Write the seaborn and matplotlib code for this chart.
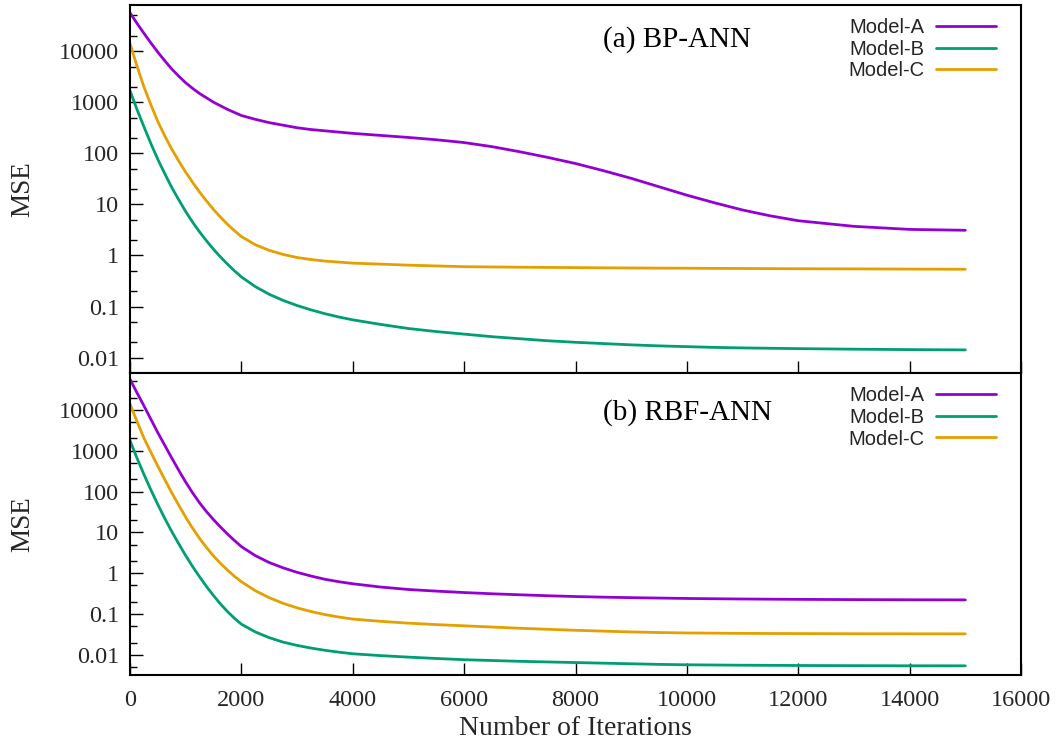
import numpy as np
import pandas as pd
import matplotlib
matplotlib.use("Agg")
import matplotlib.pyplot as plt
import matplotlib.ticker as mticker
import seaborn as sns

# ---------------- data ----------------
# MSE values are read off the log axis, so they are stored as log10(MSE)
iterations = [0, 125, 250, 375, 500, 625, 750, 875, 1000, 1125, 1250, 1375, 1500, 1625,
              1750, 1875, 2000, 2250, 2500, 2750, 3000, 3250, 3500, 3750, 4000, 4500,
              5000, 5500, 6000, 6500, 7000, 7500, 8000, 8500, 9000, 9500, 10000, 10500,
              11000, 11500, 12000, 13000, 14000, 15000]

models = ["Model-A", "Model-B", "Model-C"]

bp_model_a_log10 = [4.75, 4.545, 4.35, 4.16, 3.98, 3.81, 3.65, 3.51, 3.38, 3.27, 3.17, 3.085,
                    3.00, 2.93, 2.86, 2.80, 2.74, 2.665, 2.60, 2.55, 2.50, 2.465, 2.44, 2.415,
                    2.39, 2.35, 2.31, 2.265, 2.21, 2.13, 2.03, 1.92, 1.80, 1.66, 1.51, 1.345,
                    1.18, 1.03, 0.89, 0.775, 0.68, 0.57, 0.51, 0.493]
bp_model_b_log10 = [3.225, 2.86, 2.52, 2.19, 1.88, 1.60, 1.33, 1.09, 0.86, 0.65, 0.46, 0.285,
                    0.12, -0.03, -0.17, -0.30, -0.42, -0.61, -0.76, -0.88, -0.98, -1.065,
                    -1.14, -1.205, -1.26, -1.35, -1.43, -1.49, -1.54, -1.59, -1.63, -1.67,
                    -1.70, -1.725, -1.75, -1.77, -1.785, -1.80, -1.81, -1.817, -1.824,
                    -1.835, -1.843, -1.849]
bp_model_c_log10 = [4.15, 3.71, 3.30, 2.95, 2.62, 2.34, 2.08, 1.85, 1.63, 1.43, 1.24, 1.065,
                    0.90, 0.75, 0.61, 0.485, 0.37, 0.21, 0.10, 0.02, -0.04, -0.08, -0.11,
                    -0.13, -0.15, -0.17, -0.19, -0.205, -0.22, -0.225, -0.23, -0.234, -0.238,
                    -0.242, -0.245, -0.248, -0.25, -0.253, -0.255, -0.258, -0.26, -0.263,
                    -0.267, -0.27]

rbf_model_a_log10 = [4.75, 4.42, 4.10, 3.77, 3.44, 3.13, 2.82, 2.52, 2.23, 1.965, 1.72, 1.505,
                     1.31, 1.13, 0.96, 0.80, 0.65, 0.43, 0.26, 0.13, 0.02, -0.07, -0.15,
                     -0.21, -0.26, -0.34, -0.40, -0.44, -0.475, -0.505, -0.53, -0.553,
                     -0.573, -0.588, -0.60, -0.61, -0.62, -0.627, -0.633, -0.638, -0.642,
                     -0.648, -0.652, -0.655]
rbf_model_b_log10 = [3.248, 2.82, 2.42, 2.04, 1.68, 1.34, 1.02, 0.72, 0.43, 0.16, -0.09, -0.33,
                     -0.55, -0.755, -0.94, -1.105, -1.25, -1.44, -1.58, -1.69, -1.77, -1.835,
                     -1.89, -1.935, -1.975, -2.02, -2.057, -2.09, -2.12, -2.14, -2.16, -2.175,
                     -2.19, -2.205, -2.22, -2.235, -2.245, -2.25, -2.255, -2.258, -2.262,
                     -2.266, -2.269, -2.27]
rbf_model_c_log10 = [4.146, 3.72, 3.31, 2.96, 2.62, 2.29, 1.97, 1.665, 1.37, 1.10, 0.85, 0.625,
                     0.42, 0.24, 0.075, -0.075, -0.21, -0.43, -0.60, -0.74, -0.85, -0.94,
                     -1.015, -1.075, -1.125, -1.18, -1.225, -1.26, -1.29, -1.32, -1.35,
                     -1.375, -1.40, -1.42, -1.44, -1.455, -1.465, -1.47, -1.475, -1.478,
                     -1.48, -1.484, -1.486, -1.487]

panel_titles = ["(a) BP-ANN", "(b) RBF-ANN"]
y_tick_values = [0.01, 0.1, 1, 10, 100, 1000, 10000]
x_tick_values = [0, 2000, 4000, 6000, 8000, 10000, 12000, 14000, 16000]

palette = {"Model-A": "#9400d3", "Model-B": "#009e73", "Model-C": "#e69f00"}


def long_frame(a, b, c):
    frames = []
    for name, vals in zip(models, [a, b, c]):
        frames.append(pd.DataFrame({"Iterations": iterations,
                                    "MSE": np.power(10.0, np.asarray(vals)),
                                    "Model": name}))
    return pd.concat(frames, ignore_index=True)


df_bp = long_frame(bp_model_a_log10, bp_model_b_log10, bp_model_c_log10)
df_rbf = long_frame(rbf_model_a_log10, rbf_model_b_log10, rbf_model_c_log10)

# ---------------- style ----------------
sns.set_theme(style="ticks")
plt.rcParams["font.family"] = ["Liberation Serif", "DejaVu Serif"]
plt.rcParams["axes.linewidth"] = 1.5

W, H = 1060, 742
fig = plt.figure(figsize=(W / 100, H / 100), dpi=100)
left = 130 / W
width = (1021 - 130) / W
ax_top = fig.add_axes([left, 1 - 373 / H, width, (373 - 5) / H])
ax_bot = fig.add_axes([left, 1 - 675 / H, width, (675 - 373) / H])

configs = [
    (ax_top, df_bp, (0.005, 8e4), 0.887, 0.9645),
    (ax_bot, df_rbf, (0.0032, 8e4), 0.846, 0.956),
]

for i, (ax, df, ylim, title_y, leg_y) in enumerate(configs):
    sns.lineplot(data=df, x="Iterations", y="MSE", hue="Model", hue_order=models,
                 palette=palette, linewidth=2.0, errorbar=None, ax=ax)
    ax.set_yscale("log")
    ax.set_xlim(0, 16000)
    ax.set_ylim(*ylim)
    ax.yaxis.set_major_locator(mticker.FixedLocator(y_tick_values))
    ax.yaxis.set_major_formatter(mticker.FuncFormatter(lambda v, p: "%g" % v))
    ax.yaxis.set_minor_locator(mticker.LogLocator(base=10, subs=(2.0, 5.0), numticks=20))
    ax.yaxis.set_minor_formatter(mticker.NullFormatter())
    ax.xaxis.set_major_locator(mticker.FixedLocator(x_tick_values))
    ax.tick_params(axis="both", which="major", direction="in", length=9, width=1.0,
                   labelsize=17.5, top=False, right=False, color="black")
    ax.tick_params(axis="y", which="major", pad=8)
    ax.tick_params(axis="x", which="major", pad=10.5)
    ax.tick_params(axis="y", which="minor", direction="in", length=5, width=1.0,
                   right=False, color="black")
    ax.tick_params(axis="x", which="minor", bottom=False, top=False)
    for s in ax.spines.values():
        s.set_visible(True)
        s.set_color("black")
        s.set_linewidth(1.5)
    ax.set_ylabel("MSE", fontsize=19.5)
    ax.yaxis.set_label_coords(-0.106, 0.5)
    ax.text(0.531, title_y, panel_titles[i], transform=ax.transAxes, fontsize=21,
            ha="left", va="baseline", color="black")
    ax.legend(loc="upper right", bbox_to_anchor=(0.972, leg_y), frameon=False,
              markerfirst=False, handlelength=3.0, handletextpad=0.55,
              labelspacing=0.13, borderpad=0, borderaxespad=0,
              prop={"family": "Liberation Sans", "size": 14.5})

ax_top.set_xlabel("")
ax_top.tick_params(axis="x", labelbottom=False)
ax_bot.set_xlabel("Number of Iterations", fontsize=20)
ax_bot.xaxis.set_label_coords(0.5, -0.135)

fig.savefig("out.png", dpi=100)
